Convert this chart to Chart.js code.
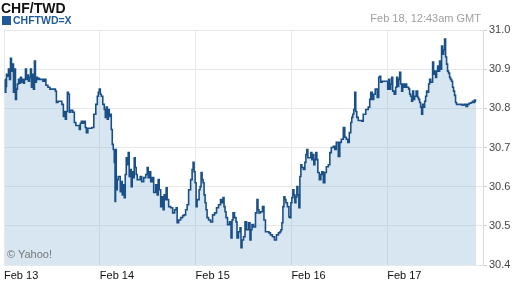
<!DOCTYPE html>
<html>
<head>
<meta charset="utf-8">
<script src="https://cdn.jsdelivr.net/npm/chart.js@4"></script>
<style>
    body { margin: 0; background: #fff; font-family: "Liberation Sans", Arial, sans-serif; }
    #wrap { position: relative; width: 512px; height: 288px; }
    #title { position: absolute; left: 1px; top: 0px; font-size: 14px; font-weight: bold; color: #111; }
    #legend { position: absolute; left: 2px; top: 14px; font-size: 10.5px; font-weight: bold; color: #1f5a99; }
    #legend span { display: inline-block; width: 9px; height: 9px; background: #1f5a99; margin-right: 2px; vertical-align: -1px; }
    #stamp { position: absolute; right: 31px; top: 12px; font-size: 11px; color: #a0a0a0; }
    #credit { position: absolute; left: 7px; top: 248px; font-size: 11px; color: #777; }
</style>
</head>
<body>
<div id="wrap">
    <canvas id="chart" width="512" height="288"></canvas>
    <div id="title">CHF/TWD</div>
    <div id="legend"><span></span>CHFTWD=X</div>
    <div id="stamp">Feb 18, 12:43am GMT</div>
    <div id="credit">&copy; Yahoo!</div>
</div>
<script>
// hours since Feb 13 00:00
var hours = [
    0.25, 0.4, 0.5, 0.75, 1.0, 1.25, 1.5, 1.75, 2.0, 2.25, 2.5, 2.75, 3.0, 3.25, 3.5, 3.75, 4.0, 4.25, 4.5, 4.75,
    5.0, 5.25, 5.5, 5.75, 6.0, 6.25, 6.5, 6.75, 7.0, 7.25, 7.5, 7.75, 8.0, 8.25, 8.5, 8.75, 9.0, 9.5, 10.0, 10.25,
    10.75, 11.25, 11.75, 12.25, 12.75, 13.0, 13.25, 13.75, 14.25, 14.75, 15.0, 15.25, 15.5, 15.75, 16.0, 16.25, 16.5, 17.0, 17.5, 17.75,
    18.25, 18.75, 19.0, 19.25, 19.5, 20.0, 20.25, 20.5, 20.75, 21.25, 21.75, 22.25, 22.75, 23.25, 23.5, 23.75, 24.0, 24.25, 24.5, 25.0,
    25.25, 25.5, 25.75, 26.0, 26.25, 26.5, 26.75, 27.0, 27.25, 27.5, 27.75, 27.9, 28.0, 28.25, 28.5, 28.75, 29.0,
    29.25, 29.5, 29.75, 30.0, 30.25, 30.5, 30.75, 31.0, 31.25, 31.5, 31.75, 32.0, 32.25, 32.5, 32.75, 33.0, 33.25, 33.5, 34.0, 34.25,
    34.75, 35.25, 35.75, 36.0, 36.25, 36.5, 37.0, 37.25, 37.75, 38.25, 38.5, 38.75, 39.0, 39.5, 39.75, 40.0, 40.25, 40.5, 40.75, 41.0,
    41.5, 42.0, 42.5, 43.0, 43.25, 43.5, 44.0, 44.5, 45.0, 45.25, 45.75, 46.0, 46.5, 47.0, 47.25, 47.5, 47.75, 48.0, 48.25, 48.5,
    48.75, 49.0, 49.25, 49.5, 49.75, 50.0, 50.25, 50.5, 50.75, 51.0, 51.5, 52.0, 52.5, 53.0, 53.5, 54.0, 54.5, 54.75, 55.0, 55.25,
    55.5, 55.75, 56.25, 56.75, 57.0, 57.25, 57.5, 58.0, 58.25, 58.5,
    59.0, 59.25, 59.5, 59.75, 60.25, 60.5, 61.0, 61.5, 61.75, 62.0, 62.25, 62.75, 63.25, 63.5, 63.75, 64.0, 64.5, 65.0, 65.25, 65.75,
    66.25, 66.5, 67.0, 67.5, 68.0, 68.5, 69.0, 69.25, 69.5, 69.75, 70.0, 70.25, 70.5, 70.75, 71.25, 71.5, 71.75, 72.0, 72.25, 72.5,
    72.75, 73.0, 73.25, 73.5, 73.75, 74.0, 74.25, 74.5, 74.75, 75.25, 75.5, 75.75, 76.0, 76.25, 76.75, 77.0, 77.25, 77.5, 77.75, 78.0,
    78.25, 78.5, 78.75, 79.25, 79.5, 79.75, 80.25, 80.5, 81.0, 81.5, 81.75, 82.25, 82.75, 83.0, 83.5, 84.0, 84.25, 84.75, 85.25, 85.5,
    86.0, 86.25, 86.75, 87.0, 87.25, 87.5, 87.75, 88.0,
    88.25, 88.5, 89.0, 89.5, 89.75, 90.25, 91.0, 91.5, 91.75, 92.0, 92.5, 92.75, 93.25, 93.75, 94.0, 94.25, 94.5, 95.0, 95.5, 96.0,
    96.25, 96.5, 96.75, 97.0, 97.25, 97.5, 98.0, 98.25, 98.5, 98.75, 99.0, 99.25, 99.5, 99.75, 100.0, 100.25, 100.75, 101.0, 101.25, 101.5,
    101.75, 102.0, 102.25, 102.5, 102.75, 103.0, 103.5, 103.75, 104.0, 104.25, 104.5, 104.75, 105.0, 105.25, 105.5, 105.75, 106.0, 106.25, 106.5, 106.75,
    107.0, 107.25, 107.5, 107.75, 108.0, 108.25, 108.5, 108.75, 109.0, 109.25, 109.5, 109.75, 110.0, 110.25, 110.5, 110.75, 111.0, 111.25, 111.5, 111.75,
    112.0, 112.25, 112.5, 112.75, 113.0, 113.25, 113.5, 114.0, 114.5, 115.0, 115.5, 116.0, 116.25, 116.75, 117.25, 117.5, 117.75, 118.0, 118.25
];

var rates = [
    30.874, 30.841, 30.856, 30.887, 30.882, 30.900, 30.874, 30.928, 30.895, 30.913, 30.841, 30.900, 30.823, 30.849, 30.862, 30.874, 30.864, 30.879, 30.867, 30.874,
    30.864, 30.874, 30.900, 30.874, 30.885, 30.869, 30.879, 30.900, 30.854, 30.887, 30.849, 30.921, 30.867, 30.879, 30.874, 30.877, 30.874, 30.874, 30.869, 30.874,
    30.859, 30.854, 30.849, 30.849, 30.849, 30.844, 30.815, 30.818, 30.818, 30.810, 30.779, 30.792, 30.772, 30.792, 30.841, 30.836, 30.790, 30.795, 30.790, 30.764,
    30.756, 30.756, 30.746, 30.762, 30.767, 30.762, 30.767, 30.751, 30.738, 30.749, 30.749, 30.751, 30.785, 30.810, 30.831, 30.841, 30.849, 30.836, 30.831, 30.810,
    30.797, 30.777, 30.803, 30.772, 30.797, 30.779, 30.785, 30.746, 30.708, 30.695, 30.662, 30.562, 30.695, 30.592, 30.618, 30.626, 30.626,
    30.587, 30.613, 30.579, 30.605, 30.572, 30.631, 30.674, 30.656, 30.687, 30.626, 30.644, 30.600, 30.638, 30.623, 30.674, 30.649, 30.631, 30.618, 30.618, 30.626,
    30.613, 30.623, 30.631, 30.649, 30.623, 30.638, 30.613, 30.623, 30.585, 30.605, 30.579, 30.618, 30.592, 30.549, 30.574, 30.541, 30.579, 30.567, 30.597, 30.567,
    30.549, 30.546, 30.533, 30.541, 30.546, 30.508, 30.515, 30.521, 30.526, 30.528, 30.541, 30.554, 30.592, 30.618, 30.644, 30.662, 30.638, 30.610, 30.549, 30.567,
    30.567, 30.592, 30.600, 30.636, 30.618, 30.610, 30.579, 30.559, 30.541, 30.521, 30.515, 30.510, 30.528, 30.533, 30.546, 30.554, 30.567, 30.559, 30.572, 30.549,
    30.536, 30.521, 30.503, 30.510, 30.469, 30.515, 30.533, 30.521, 30.510, 30.469,
    30.485, 30.495, 30.444, 30.464, 30.472, 30.510, 30.490, 30.508, 30.464, 30.490, 30.503, 30.497, 30.533, 30.567, 30.541, 30.533, 30.536, 30.549, 30.515, 30.485,
    30.485, 30.482, 30.477, 30.472, 30.464, 30.477, 30.482, 30.485, 30.490, 30.508, 30.549, 30.574, 30.567, 30.559, 30.549, 30.523, 30.521, 30.559, 30.572, 30.592,
    30.579, 30.559, 30.574, 30.600, 30.579, 30.546, 30.626, 30.656, 30.649, 30.644, 30.662, 30.682, 30.695, 30.674, 30.674, 30.687, 30.669, 30.682, 30.656, 30.669,
    30.687, 30.669, 30.636, 30.618, 30.631, 30.638, 30.610, 30.636, 30.651, 30.656, 30.687, 30.700, 30.703, 30.695, 30.713, 30.677, 30.713, 30.721, 30.751, 30.726,
    30.721, 30.713, 30.738, 30.764, 30.777, 30.785, 30.797, 30.841,
    30.792, 30.777, 30.769, 30.769, 30.767, 30.785, 30.797, 30.803, 30.823, 30.841, 30.823, 30.836, 30.849, 30.828, 30.879, 30.882, 30.867, 30.869, 30.869, 30.869,
    30.849, 30.874, 30.849, 30.862, 30.879, 30.844, 30.836, 30.854, 30.879, 30.856, 30.874, 30.892, 30.862, 30.844, 30.862, 30.854, 30.862, 30.854, 30.854, 30.849,
    30.836, 30.831, 30.818, 30.844, 30.823, 30.831, 30.844, 30.828, 30.823, 30.815, 30.803, 30.785, 30.810, 30.803, 30.818, 30.831, 30.844, 30.841, 30.862, 30.874,
    30.867, 30.867, 30.918, 30.887, 30.895, 30.879, 30.895, 30.908, 30.895, 30.921, 30.900, 30.959, 30.938, 30.949, 30.977, 30.931, 30.913, 30.895, 30.890, 30.879,
    30.874, 30.869, 30.854, 30.844, 30.833, 30.815, 30.810, 30.810, 30.810, 30.808, 30.810, 30.805, 30.810, 30.813, 30.815, 30.818, 30.815, 30.821, 30.818
];

var dayLabels = ['Feb 13', 'Feb 14', 'Feb 15', 'Feb 16', 'Feb 17'];
var dayTicks = [0, 24, 48, 72, 96, 120];
var rateTicks = [30.4, 30.5, 30.6, 30.7, 30.8, 30.9, 31.0];

var points = [];
for (var i = 0; i < hours.length; i++) {
    points.push({ x: hours[i], y: rates[i] });
}

var ctx = document.getElementById('chart').getContext('2d');
var chart = new Chart(ctx, {
    type: 'line',
    data: {
        datasets: [{
            label: 'CHFTWD=X',
            data: points,
            borderColor: '#1b4f88',
            borderWidth: 1.6,
            backgroundColor: 'rgba(160,196,222,0.42)',
            fill: 'start',
            pointRadius: 0,
            stepped: 'middle'
        }]
    },
    options: {
        responsive: false,
        animation: false,
        layout: { padding: { left: 2, top: 30, right: 0, bottom: 0 } },
        plugins: {
            legend: { display: false },
            tooltip: { enabled: false }
        },
        scales: {
            x: {
                type: 'linear',
                min: 0,
                max: 120,
                afterBuildTicks: function (scale) {
                    scale.ticks = dayTicks.map(function (v) { return { value: v }; });
                },
                afterFit: function (scale) { scale.height = 23; },
                grid: { color: '#e6e8ec', drawTicks: false },
                border: { display: false },
                ticks: {
                    align: 'start',
                    padding: 4,
                    color: '#111',
                    font: { family: 'Liberation Sans', size: 11 },
                    maxRotation: 0,
                    autoSkip: false,
                    callback: function (value) {
                        var idx = dayTicks.indexOf(value);
                        return idx >= 0 && idx < dayLabels.length ? dayLabels[idx] : '';
                    }
                }
            },
            y: {
                position: 'right',
                min: 30.4,
                max: 31.0,
                afterBuildTicks: function (scale) {
                    scale.ticks = rateTicks.map(function (v) { return { value: v }; });
                },
                afterFit: function (scale) { scale.width = 29; },
                grid: { color: '#e6e8ec', tickLength: 4, tickColor: '#d0d0d0' },
                border: { color: '#dadada' },
                ticks: {
                    padding: 2,
                    color: '#444',
                    font: { family: 'Liberation Sans', size: 11 },
                    callback: function (value) { return value.toFixed(1); }
                }
            }
        }
    }
});
</script>
</body>
</html>
